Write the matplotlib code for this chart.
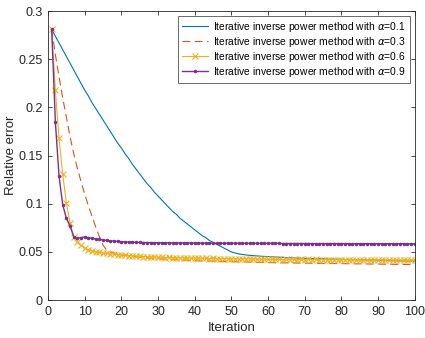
import matplotlib
matplotlib.use('Agg')
import matplotlib.pyplot as plt

iterations = list(range(1, 101))

# alpha = 0.1 (blue, solid)
err_01 = [0.281, 0.274, 0.267, 0.260, 0.253, 0.246, 0.239, 0.232, 0.225, 0.218,
          0.212, 0.205, 0.199, 0.193, 0.187, 0.181, 0.175, 0.169, 0.163, 0.158,
          0.152, 0.147, 0.141, 0.136, 0.131, 0.126, 0.121, 0.117, 0.112, 0.108,
          0.104, 0.100, 0.096, 0.092, 0.089, 0.085, 0.082, 0.079, 0.076, 0.073,
          0.070, 0.067, 0.065, 0.062, 0.060, 0.058, 0.056, 0.054, 0.052, 0.050,
          0.049, 0.048, 0.0474, 0.0469, 0.0465, 0.0462, 0.0459, 0.0456, 0.0454, 0.0452,
          0.0450, 0.0448, 0.0446, 0.0444, 0.0442, 0.0440, 0.0438, 0.0437, 0.0435, 0.0434,
          0.0433, 0.0432, 0.0431, 0.0430, 0.0429, 0.0428, 0.0427, 0.0426, 0.0425, 0.0424,
          0.0423, 0.0422, 0.0421, 0.0420, 0.0419, 0.0418, 0.0417, 0.0416, 0.0415, 0.0414,
          0.0413, 0.0412, 0.0411, 0.0410, 0.0409, 0.0408, 0.0407, 0.0406, 0.0405, 0.0404]

# alpha = 0.3 (red, dashed)
err_03 = [0.281, 0.255, 0.232, 0.210, 0.190, 0.170, 0.152, 0.137, 0.123, 0.110,
          0.098, 0.087, 0.076, 0.066, 0.057, 0.052, 0.050, 0.049, 0.048, 0.047,
          0.0465, 0.0460, 0.0455, 0.0450, 0.0446, 0.0442, 0.0439, 0.0436, 0.0433, 0.0430,
          0.0428, 0.0426, 0.0424, 0.0422, 0.0420, 0.0418, 0.0416, 0.0414, 0.0412, 0.0410,
          0.0409, 0.0408, 0.0407, 0.0406, 0.0405, 0.0404, 0.0403, 0.0402, 0.0401, 0.0400,
          0.0399, 0.0398, 0.0397, 0.0396, 0.0395, 0.0394, 0.0393, 0.0392, 0.0391, 0.0390,
          0.0389, 0.0388, 0.0388, 0.0387, 0.0387, 0.0386, 0.0386, 0.0385, 0.0385, 0.0384,
          0.0384, 0.0383, 0.0383, 0.0382, 0.0382, 0.0381, 0.0381, 0.0380, 0.0380, 0.0379,
          0.0379, 0.0378, 0.0378, 0.0377, 0.0377, 0.0376, 0.0376, 0.0375, 0.0375, 0.0374,
          0.0374, 0.0373, 0.0373, 0.0372, 0.0372, 0.0371, 0.0371, 0.0370, 0.0370, 0.0369]

# alpha = 0.6 (yellow, x markers)
err_06 = [0.281, 0.218, 0.168, 0.131, 0.101, 0.080, 0.066, 0.060, 0.057, 0.054,
          0.052, 0.051, 0.050, 0.0495, 0.049, 0.0485, 0.048, 0.0478, 0.0472, 0.047,
          0.0468, 0.0463, 0.0462, 0.0458, 0.0457, 0.0453, 0.0452, 0.0449, 0.0448, 0.0445,
          0.0446, 0.0442, 0.0443, 0.0440, 0.0441, 0.0438, 0.0439, 0.0436, 0.0437, 0.0434,
          0.0436, 0.0433, 0.0434, 0.0431, 0.0433, 0.0430, 0.0432, 0.0429, 0.0431, 0.0428,
          0.0430, 0.0427, 0.0429, 0.0426, 0.0428, 0.0425, 0.0427, 0.0424, 0.0426, 0.0423,
          0.0425, 0.0422, 0.0424, 0.0421, 0.0424, 0.0421, 0.0423, 0.0420, 0.0423, 0.0420,
          0.0422, 0.0419, 0.0422, 0.0419, 0.0421, 0.0418, 0.0421, 0.0418, 0.0420, 0.0417,
          0.0420, 0.0417, 0.0419, 0.0416, 0.0419, 0.0416, 0.0418, 0.0415, 0.0418, 0.0415,
          0.0417, 0.0414, 0.0417, 0.0414, 0.0416, 0.0413, 0.0416, 0.0413, 0.0415, 0.0413]

# alpha = 0.9 (purple, dot markers)
err_09 = [0.281, 0.185, 0.129, 0.099, 0.085, 0.077, 0.066, 0.064, 0.065, 0.0655,
          0.065, 0.064, 0.0635, 0.063, 0.0625, 0.062, 0.0616, 0.0613, 0.061, 0.0607,
          0.0605, 0.0603, 0.0601, 0.0600, 0.0599, 0.0598, 0.0598, 0.0597, 0.0597, 0.0596,
          0.0596, 0.0595, 0.0595, 0.0595, 0.0594, 0.0594, 0.0594, 0.0593, 0.0593, 0.0593,
          0.0593, 0.0592, 0.0592, 0.0592, 0.0592, 0.0591, 0.0591, 0.0591, 0.0591, 0.0591,
          0.0590, 0.0590, 0.0590, 0.0590, 0.0590, 0.0590, 0.0589, 0.0589, 0.0589, 0.0589,
          0.0589, 0.0589, 0.0589, 0.0588, 0.0588, 0.0588, 0.0588, 0.0588, 0.0588, 0.0588,
          0.0588, 0.0587, 0.0587, 0.0587, 0.0587, 0.0587, 0.0587, 0.0587, 0.0587, 0.0587,
          0.0586, 0.0586, 0.0586, 0.0586, 0.0586, 0.0586, 0.0586, 0.0586, 0.0586, 0.0586,
          0.0585, 0.0585, 0.0585, 0.0585, 0.0585, 0.0585, 0.0585, 0.0585, 0.0585, 0.0585]

labels = ['Iterative inverse power method with $\\alpha$=0.1',
          'Iterative inverse power method with $\\alpha$=0.3',
          'Iterative inverse power method with $\\alpha$=0.6',
          'Iterative inverse power method with $\\alpha$=0.9']

plt.rcParams['font.family'] = ['Liberation Sans', 'DejaVu Sans']
plt.rcParams['mathtext.fontset'] = 'dejavusans'

fig = plt.figure(figsize=(4.25, 3.38), dpi=100)
ax = fig.add_axes([0.113, 0.112, 0.863, 0.855])

ax.plot(iterations, err_01, color='#0072BD', linewidth=0.8, label=labels[0])
ax.plot(iterations, err_03, color='#D95319', linewidth=0.8, linestyle=(0, (7, 4)), label=labels[1])
ax.plot(iterations, err_06, color='#EDB120', linewidth=0.8, marker='x', markersize=4.5,
        markeredgewidth=0.8, label=labels[2])
ax.plot(iterations, err_09, color='#7E2F8E', linewidth=1.0, marker='.', markersize=3,
        label=labels[3])

ax.set_xlim(0, 100)
ax.set_ylim(0, 0.3)
ax.set_xticks(range(0, 101, 10))
ax.set_yticks([0, 0.05, 0.1, 0.15, 0.2, 0.25, 0.3])
ax.set_yticklabels(['0', '0.05', '0.1', '0.15', '0.2', '0.25', '0.3'])

ax.tick_params(direction='in', top=True, right=True, labelsize=9,
               colors='#262626', length=3, width=0.6, pad=4)
for spine in ax.spines.values():
    spine.set_color('#262626')
    spine.set_linewidth(0.6)

ax.set_xlabel('Iteration', fontsize=9.5, color='#262626', labelpad=3)
ax.set_ylabel('Relative error', fontsize=9.5, color='#262626', labelpad=1)

leg = ax.legend(loc='upper right', fontsize=7.4, frameon=True, fancybox=False,
                edgecolor='#262626', handlelength=2.6, borderpad=0.35,
                labelspacing=0.1, handletextpad=0.5, borderaxespad=0.5)
leg.get_frame().set_linewidth(0.6)

fig.savefig('out.png', dpi=100)
